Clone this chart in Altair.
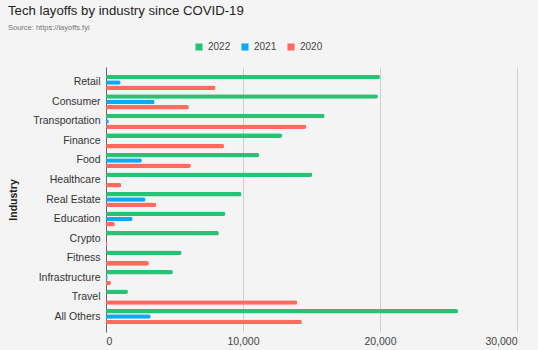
import altair as alt
import pandas as pd

industries = ["Retail", "Consumer", "Transportation", "Finance", "Food", "Healthcare",
              "Real Estate", "Education", "Crypto", "Fitness", "Infrastructure", "Travel",
              "All Others"]
y2022 = [20000, 19850, 15960, 12850, 11175, 15060, 9890, 8720, 8240, 5520, 4880, 1600, 25700]
y2021 = [1070, 3550, 200, 0, 2620, 0, 2890, 1940, 0, 0, 120, 0, 3260]
y2020 = [8000, 6050, 14630, 8620, 6200, 1120, 3670, 650, 100, 3130, 360, 13970, 14300]
years = ["2022", "2021", "2020"]
colors = ["#29c174", "#0ca9f6", "#ff6b5c"]

rows = []
for i, ind in enumerate(industries):
    for yr, vals in zip(years, [y2022, y2021, y2020]):
        rows.append({"Industry": ind, "Year": yr, "Layoffs": vals[i]})
df = pd.DataFrame(rows)

FONT = "Liberation Sans"

chart = alt.Chart(df).mark_bar(cornerRadius=2).encode(
    x=alt.X("Layoffs:Q",
            scale=alt.Scale(domain=[0, 30000], nice=False),
            axis=alt.Axis(values=[0, 10000, 20000, 30000], format=",.0f", title=None,
                          domain=False, ticks=False, grid=True, gridColor="#cfcfcf",
                          labelFontSize=10.5, labelColor="#444", labelPadding=4,
                          labelFont=FONT)),
    y=alt.Y("Industry:N", sort=industries,
            scale=alt.Scale(paddingInner=0.22, paddingOuter=0.4),
            axis=alt.Axis(title="Industry", titleFontSize=10.5, titleFontWeight="bold",
                          titleColor="#222", titleFont=FONT,
                          labelFontSize=10.5, labelColor="#333", labelFont=FONT,
                          ticks=False, domain=True, domainColor="#666", labelPadding=6,
                          titlePadding=14)),
    yOffset=alt.YOffset("Year:N", sort=years, scale=alt.Scale(paddingInner=0.15)),
    color=alt.Color("Year:N", sort=years,
                    scale=alt.Scale(domain=years, range=colors),
                    legend=alt.Legend(title=None, orient="none", direction="horizontal",
                                      legendX=88, legendY=-25, symbolType="square",
                                      symbolSize=50, symbolStrokeWidth=0,
                                      labelFontSize=10, labelColor="#444",
                                      labelFont=FONT, columnPadding=9)),
).properties(
    width=411,
    height=265,
    background="#f4f4f4",
    padding={"left": 106, "top": 67, "right": 21, "bottom": 18},
    autosize=alt.AutoSizeParams(type="none"),
    title=alt.TitleParams(
        text="Tech layoffs by industry since COVID-19",
        subtitle="Source: https://layoffs.fyi",
        anchor="start", frame="group", dx=-98, offset=10,
        fontSize=13.2, fontWeight="normal", color="#222", font=FONT,
        subtitleFontSize=7.5, subtitleColor="#777", subtitleFont=FONT,
        subtitlePadding=5,
    ),
).configure_view(stroke=None)

chart.save("out.html", embed_options={"renderer": "svg", "actions": False})
